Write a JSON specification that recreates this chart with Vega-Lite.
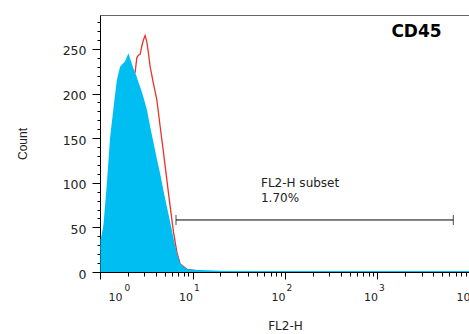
{
  "$schema": "https://vega.github.io/schema/vega-lite/v6.json",
  "width": 370,
  "height": 257,
  "autosize": {"type": "none"},
  "padding": {"left": 100, "top": 15, "right": 0, "bottom": 62},
  "background": "white",
  "config": {
    "view": {"stroke": "#666", "strokeWidth": 1},
    "axis": {"grid": false, "domainColor": "#000", "tickColor": "#000", "labelColor": "#222", "titleColor": "#222", "domainWidth": 1, "tickWidth": 1}
  },
  "resolve": {"axis": {"x": "independent"}},
  "datasets": {
    "blue": [
      {"x": 1.01, "y": 36}, {"x": 1.025, "y": 38}, {"x": 1.086, "y": 51}, {"x": 1.18, "y": 96},
      {"x": 1.283, "y": 150}, {"x": 1.44, "y": 195}, {"x": 1.52, "y": 215}, {"x": 1.647, "y": 230},
      {"x": 1.75, "y": 233}, {"x": 1.86, "y": 236}, {"x": 1.95, "y": 241}, {"x": 2.03, "y": 245},
      {"x": 2.12, "y": 239}, {"x": 2.2, "y": 234}, {"x": 2.3, "y": 228}, {"x": 2.45, "y": 221},
      {"x": 2.6, "y": 213}, {"x": 2.75, "y": 206}, {"x": 2.946, "y": 196}, {"x": 3.208, "y": 182},
      {"x": 3.485, "y": 163}, {"x": 3.784, "y": 145}, {"x": 4.117, "y": 127}, {"x": 4.47, "y": 110},
      {"x": 4.856, "y": 91}, {"x": 5.284, "y": 73}, {"x": 5.74, "y": 56}, {"x": 6.23, "y": 38},
      {"x": 6.78, "y": 21}, {"x": 7.36, "y": 10}, {"x": 8.0, "y": 6}, {"x": 8.71, "y": 3.5},
      {"x": 10, "y": 2.6}, {"x": 12.1, "y": 2.2}, {"x": 20, "y": 1.5}, {"x": 50, "y": 1.2},
      {"x": 200, "y": 1}, {"x": 1000, "y": 1}, {"x": 10000, "y": 1}
    ],
    "red": [
      {"x": 1.025, "y": 25}, {"x": 1.28, "y": 95}, {"x": 1.647, "y": 180}, {"x": 2.012, "y": 212},
      {"x": 2.28, "y": 220}, {"x": 2.4, "y": 224}, {"x": 2.5, "y": 240}, {"x": 2.6, "y": 243},
      {"x": 2.715, "y": 244}, {"x": 2.83, "y": 253}, {"x": 2.946, "y": 260}, {"x": 3.075, "y": 265},
      {"x": 3.208, "y": 258}, {"x": 3.339, "y": 245}, {"x": 3.485, "y": 230}, {"x": 3.784, "y": 211},
      {"x": 4.117, "y": 193}, {"x": 4.47, "y": 163}, {"x": 4.856, "y": 134}, {"x": 5.284, "y": 103},
      {"x": 5.74, "y": 73}, {"x": 6.23, "y": 45}, {"x": 6.78, "y": 22}, {"x": 7.36, "y": 9},
      {"x": 8.71, "y": 3}, {"x": 12.1, "y": 1}
    ],
    "gate": [{"x": 6.63, "x2": 6600, "y": 58.3}],
    "caps": [{"x": 6.63, "y": 58.3}, {"x": 6600, "y": 58.3}],
    "gateLabel": [{"x": 55, "y": 94.9, "text": "FL2-H subset\n1.70%"}],
    "title": [{"x": 2641, "y": 263, "text": "CD45"}]
  },
  "encoding": {
    "x": {
      "field": "x", "type": "quantitative",
      "scale": {"type": "log", "domain": [1, 10000], "nice": false},
      "axis": null
    },
    "y": {
      "field": "y", "type": "quantitative",
      "scale": {"domain": [0, 288], "nice": false},
      "axis": {
        "title": "Count",
        "titleFont": "Liberation Sans", "titleFontSize": 12, "titleFontWeight": "normal", "titlePadding": 33,
        "values": [0,10,20,30,40,50,60,70,80,90,100,110,120,130,140,150,160,170,180,190,200,210,220,230,240,250,260,270,280],
        "labelExpr": "datum.value % 50 === 0 ? datum.label : ''",
        "labelFont": "DejaVu Sans", "labelFontSize": 12.5, "labelOverlap": false, "labelPadding": 6,
        "labelOffset": 2,
        "tickSize": {"condition": {"test": "datum.value % 50 === 0", "value": 8}, "value": 3}
      }
    }
  },
  "layer": [
    {
      "data": {"name": "red"},
      "mark": {"type": "line", "color": "#E8322C", "strokeWidth": 1.3, "interpolate": "linear"},
      "encoding": {
        "x": {
          "field": "x", "type": "quantitative",
          "axis": {
            "orient": "bottom",
            "title": "FL2-H",
            "titleFont": "DejaVu Sans", "titleFontSize": 12, "titleFontWeight": "normal", "titlePadding": 18,
            "values": [1,2,3,4,5,6,7,8,9,10,20,30,40,50,60,70,80,90,100,200,300,400,500,600,700,800,900,1000,2000,3000,4000,5000,6000,7000,8000,9000,10000],
            "labelExpr": "indexof([1,10,100,1000,10000], datum.value) >= 0 ? '10' : ''",
            "labelFont": "DejaVu Sans", "labelFontSize": 11,
            "labelAlign": "left", "labelBaseline": "top",
            "labelOffset": {"condition": {"test": "datum.value === 1", "value": 8}, "value": -14},
            "labelOverlap": false, "labelFlush": false, "labelBound": false, "labelPadding": 12,
            "tickSize": {"condition": {"test": "indexof([1,10,100,1000,10000], datum.value) >= 0", "value": 7}, "value": 4}
          }
        }
      }
    },
    {
      "data": {"name": "blue"},
      "mark": {"type": "area", "color": "#00BDF2", "opacity": 1, "interpolate": "linear"},
      "encoding": {
        "x": {
          "field": "x", "type": "quantitative",
          "axis": {
            "orient": "bottom",
            "title": null, "domain": false, "ticks": false,
            "values": [1, 10, 100, 1000, 10000],
            "labelExpr": "datum.value === 1 ? '0' : datum.value === 10 ? '1' : datum.value === 100 ? '2' : datum.value === 1000 ? '3' : '4'",
            "labelFont": "DejaVu Sans", "labelFontSize": 9,
            "labelAlign": "left", "labelBaseline": "top",
            "labelOffset": {"condition": {"test": "datum.value === 1", "value": 24}, "value": 1},
            "labelOverlap": false, "labelFlush": false, "labelBound": false, "labelPadding": 11
          }
        }
      }
    },
    {
      "data": {"name": "gate"},
      "mark": {"type": "rule", "color": "#000", "strokeWidth": 1},
      "encoding": {"x2": {"field": "x2"}}
    },
    {
      "data": {"name": "caps"},
      "mark": {"type": "tick", "orient": "vertical", "color": "#000", "size": 10, "thickness": 1}
    },
    {
      "data": {"name": "gateLabel"},
      "mark": {"type": "text", "align": "left", "baseline": "alphabetic", "font": "DejaVu Sans", "fontSize": 12, "lineHeight": 14.5, "lineBreak": "\n", "color": "#222"},
      "encoding": {"text": {"field": "text"}}
    },
    {
      "data": {"name": "title"},
      "mark": {"type": "text", "align": "center", "baseline": "alphabetic", "font": "DejaVu Sans", "fontSize": 17, "fontWeight": "bold", "color": "#000"},
      "encoding": {"text": {"field": "text"}}
    }
  ]
}
